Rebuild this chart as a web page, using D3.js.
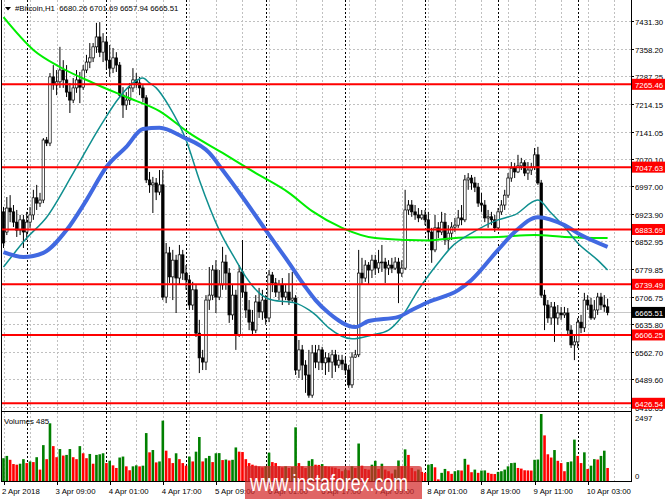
<!DOCTYPE html>
<html><head><meta charset="utf-8">
<script src="https://cdn.jsdelivr.net/npm/d3@7"></script>
<style>
html,body{margin:0;padding:0;background:#fff;}
svg{display:block;font-family:"Liberation Sans",Arial,sans-serif;}
</style></head><body>
<svg id="c" width="665" height="499"></svg>
<script>
// ---------------- data ----------------
const symbolTitle = "#Bitcoin,H1";
const priceTicks = ["7431.30","7358.20","7287.25","7214.15","7141.05","7070.10","6997.00","6923.90","6852.95","6779.85","6706.75","6635.80","6562.70","6489.60","6416.65"];
const levels = [7265.46, 7047.63, 6883.69, 6739.49, 6606.25, 6426.54];
const lastPrice = 6665.51;
const timeLabelIdx = [0, 16, 32, 48, 64, 80, 96, 112, 128, 144, 160, 176];
const timeLabels = ["2 Apr 2018","3 Apr 09:00","4 Apr 01:00","4 Apr 17:00","5 Apr 09:00","6 Apr 01:00","6 Apr 17:00","7 Apr 09:00","8 Apr 01:00","8 Apr 19:00","9 Apr 11:00","10 Apr 03:00"];
const daySeparators = [7, 31, 55, 79, 103, 127, 149, 173];
const volMaxLabel = 2497;

const open = [6930,6877,6940,6930,6903,6882,6909,6877,6903,6922,
6967,6953,6961,7119,7111,7285,7264,7272,7303,7277,
7245,7224,7256,7277,7258,7303,7324,7335,7364,7390,
7350,7377,7329,7308,7335,7316,7237,7211,7224,7256,
7277,7269,7256,7230,7014,7001,7006,6982,7001,6706,
6822,6759,6803,6756,6817,6769,6751,6685,6725,6611,
6546,6535,6698,6711,6777,6706,6738,6798,6769,6659,
6711,6606,6772,6719,6672,6640,6619,6693,6667,6698,
6651,6764,6743,6719,6738,6706,6719,6698,6703,6514,
6567,6527,6501,6448,6559,6535,6567,6533,6546,6535,
6554,6527,6540,6530,6514,6475,6548,6554,6769,6756,
6790,6777,6803,6782,6796,6798,6782,6790,6782,6798,
6769,6782,6935,6948,6930,6922,6914,6922,6909,6877,
6830,6888,6877,6903,6856,6874,6890,6895,6914,6909,
7014,7019,7006,6995,6953,6948,6914,6917,6909,6888,
6930,6948,6974,7019,7045,7035,7051,7059,7032,7040,
7048,7080,7006,6711,6685,6651,6680,6651,6664,6659,
6664,6619,6580,6588,6640,6625,6698,6685,6651,6672,
6706,6685,6680.26];
const high = [6943,6969,6974,6948,6935,6922,6922,6930,6943,6988,
7001,6980,7124,7127,7295,7316,7303,7364,7329,7316,
7269,7282,7303,7298,7316,7343,7374,7374,7427,7429,
7400,7387,7369,7361,7350,7324,7258,7245,7269,7308,
7295,7285,7264,7237,7035,7022,7019,7040,7040,6848,
6838,6830,6817,6843,6830,6790,6764,6746,6738,6646,
6567,6711,6785,6790,6803,6777,6838,6817,6782,6738,
6725,6790,6856,6738,6698,6672,6711,6730,6725,6711,
6777,6772,6756,6751,6756,6738,6769,6772,6711,6593,
6580,6540,6567,6580,6580,6580,6575,6561,6559,6567,
6567,6554,6554,6548,6527,6561,6567,6830,6809,6803,
6798,6817,6817,6830,6843,6809,6803,6809,6811,6809,
6803,6988,6961,6961,6948,6940,6935,6935,6930,6888,
6922,6903,6930,6927,6895,6903,6914,6935,6948,7027,
7032,7027,7022,7006,6980,6961,6935,6930,6922,6940,
6961,6988,7032,7061,7059,7080,7072,7066,7061,7059,
7098,7101,7014,6725,6698,6693,6693,6685,6680,6680,
6677,6632,6606,6651,6659,6717,6711,6704,6698,6717,
6717,6711,6701.69];
const low = [6835,6869,6903,6890,6864,6869,6835,6856,6888,6909,
6935,6943,6953,7103,7103,7251,7237,7256,7256,7232,
7190,7216,7243,7216,7251,7295,7308,7324,7348,7337,
7324,7303,7285,7295,7298,7230,7177,7198,7211,7245,
7256,7237,7219,7006,6980,6927,6961,6974,6698,6690,
6743,6698,6664,6738,6751,6725,6672,6672,6601,6506,
6514,6514,6672,6698,6664,6698,6725,6725,6638,6646,
6567,6601,6704,6651,6619,6606,6611,6651,6646,6633,
6640,6719,6706,6698,6685,6698,6685,6693,6501,6493,
6488,6454,6441,6441,6519,6514,6514,6501,6509,6493,
6509,6519,6514,6501,6467,6467,6546,6548,6738,6746,
6738,6756,6764,6769,6772,6743,6764,6769,6777,6690,
6759,6777,6922,6917,6909,6903,6909,6895,6856,6796,
6824,6861,6869,6843,6830,6856,6877,6888,6895,6903,
6988,6988,6982,6943,6930,6903,6888,6895,6877,6882,
6922,6935,6967,7009,7019,7032,7040,7024,7014,7027,
7040,7001,6704,6619,6638,6633,6588,6633,6646,6651,
6606,6572,6540,6572,6611,6614,6672,6646,6646,6659,
6672,6667,6657.94];
const close = [6848,6940,6930,6903,6882,6909,6877,6903,6922,6967,
6953,6961,7119,7111,7285,7264,7272,7303,7277,7245,
7224,7256,7277,7258,7303,7324,7335,7364,7390,7350,
7377,7329,7308,7335,7316,7237,7211,7224,7256,7277,
7269,7256,7230,7014,7001,7006,6982,7001,6706,6822,
6759,6803,6756,6817,6769,6751,6685,6725,6611,6546,
6535,6698,6711,6777,6706,6738,6798,6769,6659,6711,
6606,6772,6719,6672,6640,6619,6693,6667,6698,6651,
6764,6743,6719,6738,6706,6719,6698,6703,6514,6567,
6527,6501,6448,6559,6535,6567,6533,6546,6535,6554,
6527,6540,6530,6514,6475,6548,6554,6769,6756,6790,
6777,6803,6782,6796,6798,6782,6790,6782,6798,6769,
6782,6935,6948,6930,6922,6914,6922,6909,6877,6830,
6888,6877,6903,6856,6874,6890,6895,6914,6909,7014,
7019,7006,6995,6953,6948,6914,6917,6909,6888,6930,
6948,6974,7019,7045,7035,7051,7059,7032,7040,7048,
7080,7006,6711,6685,6651,6680,6651,6664,6659,6664,
6619,6580,6588,6640,6625,6698,6685,6651,6672,6706,
6685,6680,6665.51];
const volume = [850,935,790,632,608,644,814,668,729,705,
887,425,1337,814,2150,1300,887,1191,948,972,
1191,887,814,1300,1033,850,1008,644,972,996,
1033,668,753,583,486,875,911,547,401,547,
583,545,571,1786,1069,1154,693,729,2250,1130,
850,668,1033,814,668,571,911,729,1093,1640,
729,850,935,705,1033,1040,780,800,765,790,
1251,1093,1080,814,668,608,571,540,510,547,
1057,705,668,547,510,547,486,520,2000,668,
547,486,753,814,608,600,632,547,530,510,
495,450,365,425,400,547,486,1397,571,450,
425,608,753,450,644,425,365,280,425,765,
547,1179,972,486,365,425,340,304,608,632,
510,61,304,450,365,267,365,400,390,826,
608,328,425,304,389,395,304,267,260,340,
365,425,547,668,680,486,462,400,395,390,
790,800,2497,1700,996,875,1154,753,668,365,
705,729,1543,935,668,1069,450,571,814,800,
935,1130,485];
// moving averages read at selected bars: [bar index, price]
const maGreen = [[0,7442],[9,7356],[17,7311],[27,7269],[37,7232],[47,7195],[56,7137],[66,7085],[76,7032],[86,6980],[93,6932],[102,6888],[112,6861],[122,6856],[128,6855],[137,6862],[149,6864],[160,6869],[169,6864],[182,6861]];
const maBlue = [[0,6824],[6,6811],[12,6822],[19,6882],[25,6961],[31,7048],[37,7101],[42,7148],[47,7151],[54,7127],[62,7085],[66,7040],[72,6969],[79,6882],[86,6796],[91,6732],[94,6698],[98,6664],[106,6627],[110,6643],[119,6654],[123,6672],[128,6693],[137,6724],[141,6751],[149,6830],[154,6877],[161,6916],[169,6895],[174,6869],[182,6838]];
const maTeal = [[0,6785],[7,6861],[13,6916],[21,7032],[29,7153],[35,7232],[39,7269],[42,7282],[44,7269],[46,7256],[50,7206],[55,7119],[59,7014],[65,6882],[70,6803],[73,6759],[77,6717],[81,6698],[88,6690],[92,6672],[94,6659],[98,6625],[105,6596],[111,6606],[116,6619],[120,6654],[125,6725],[131,6796],[135,6838],[141,6874],[149,6909],[154,6922],[161,6961],[165,6927],[169,6890],[173,6848],[179,6803],[182,6777]];

// ---------------- layout ----------------
const svg = d3.select("#c");
const L = 1, R = 631, priceBot = 411, volTop = 412, volBot = 481;
const n = close.length;
const x = d3.scaleLinear().domain([0, n - 1]).range([3.5, 607.6]);
const y = d3.scaleLinear().domain([6408.9, 7487.2]).range([410, 0]);
const yv = d3.scaleLinear().domain([0, volMaxLabel]).range([volBot, 414]);
const FS = 7.8;

svg.append("rect").attr("width", 665).attr("height", 499).attr("fill", "#fff");

svg.append("clipPath").attr("id", "pc").append("rect").attr("x", L).attr("y", 0).attr("width", R - L).attr("height", priceBot);

const g = svg.append("g");
const vgrid = d3.range(0, 200, 8).filter(i => x(i) < R - 1);
["price", "vol"].forEach(p => {
  const y0 = p === "price" ? 0 : volTop, y1 = p === "price" ? priceBot : volBot;
  g.selectAll(null).data(vgrid).join("line")
    .attr("x1", d => Math.round(x(d)) + 0.5).attr("x2", d => Math.round(x(d)) + 0.5)
    .attr("y1", y0).attr("y2", y1)
    .attr("stroke", "#c0c0c0").attr("stroke-width", 1).attr("stroke-dasharray", "2,2");
  g.selectAll(null).data(daySeparators).join("line")
    .attr("x1", d => Math.round(x(d)) + 0.5).attr("x2", d => Math.round(x(d)) + 0.5)
    .attr("y1", y0).attr("y2", y1)
    .attr("stroke", "#000").attr("stroke-width", 1).attr("stroke-dasharray", "2,2");
});
g.selectAll(null).data(priceTicks).join("line")
  .attr("x1", L).attr("x2", R)
  .attr("y1", d => Math.round(y(+d)) + 0.5).attr("y2", d => Math.round(y(+d)) + 0.5)
  .attr("stroke", "#c0c0c0").attr("stroke-dasharray", "2,2");

svg.append("line").attr("x1", L).attr("x2", R)
  .attr("y1", Math.round(y(lastPrice)) + 0.5).attr("y2", Math.round(y(lastPrice)) + 0.5)
  .attr("stroke", "#c8c8c8").attr("stroke-width", 1);

const pc = svg.append("g").attr("clip-path", "url(#pc)");
const idx = d3.range(n);
pc.selectAll(".wick").data(idx).join("line")
  .attr("x1", i => x(i)).attr("x2", i => x(i))
  .attr("y1", i => y(high[i])).attr("y2", i => y(low[i]))
  .attr("stroke", "#000").attr("stroke-width", 1);
const bw = 2.5;
pc.selectAll(".body").data(idx).join("rect")
  .attr("x", i => x(i) - bw / 2)
  .attr("y", i => y(Math.max(open[i], close[i])))
  .attr("width", bw)
  .attr("height", i => Math.max(0.8, Math.abs(y(open[i]) - y(close[i]))))
  .attr("fill", i => close[i] >= open[i] ? "#fff" : "#000")
  .attr("stroke", "#000").attr("stroke-width", 0.7);

const line = d3.line().x(d => x(d[0])).y(d => y(d[1])).curve(d3.curveMonotoneX);
pc.append("path").datum(maGreen).attr("d", line).attr("fill", "none").attr("stroke", "#00ee00").attr("stroke-width", 2);
pc.append("path").datum(maTeal).attr("d", line).attr("fill", "none").attr("stroke", "#0f8f8f").attr("stroke-width", 1.5);
pc.append("path").datum(maBlue).attr("d", line).attr("fill", "none").attr("stroke", "#4169e1").attr("stroke-width", 4).attr("stroke-linejoin", "round");

pc.selectAll(".lvl").data(levels).join("line")
  .attr("x1", L).attr("x2", R)
  .attr("y1", d => y(d)).attr("y2", d => y(d))
  .attr("stroke", "#ff0000").attr("stroke-width", 2);

svg.selectAll(".vb").data(idx).join("rect")
  .attr("x", i => x(i) - 1.3).attr("width", 2.6)
  .attr("y", i => yv(volume[i])).attr("height", i => volBot - yv(volume[i]))
  .attr("fill", i => (i === 0 || volume[i] > volume[i - 1]) ? "#008000" : "#ff0000");

const ax = svg.append("g").attr("stroke", "#000").attr("stroke-width", 1).attr("fill", "none");
ax.append("line").attr("x1", 1.5).attr("x2", 1.5).attr("y1", 0).attr("y2", volBot);
ax.append("line").attr("x1", R + 0.5).attr("x2", R + 0.5).attr("y1", 0).attr("y2", volBot + 1);
ax.append("line").attr("x1", 1).attr("x2", R + 1).attr("y1", priceBot + 0.5).attr("y2", priceBot + 0.5);
ax.append("line").attr("x1", 1).attr("x2", R + 1).attr("y1", volBot + 0.5).attr("y2", volBot + 0.5);
svg.selectAll(".pt").data(priceTicks).join("line")
  .attr("x1", R).attr("x2", R + 3)
  .attr("y1", d => Math.round(y(+d)) + 0.5).attr("y2", d => Math.round(y(+d)) + 0.5)
  .attr("stroke", "#000");
svg.selectAll(".ptl").data(priceTicks).join("text")
  .attr("x", R + 4).attr("y", d => y(+d) + 4)
  .attr("font-size", FS).attr("fill", "#000").text(d => d);
svg.append("text").attr("x", R + 4).attr("y", 421).attr("font-size", FS).text(volMaxLabel);
svg.append("text").attr("x", R + 4).attr("y", 479).attr("font-size", FS).text("0");
svg.append("text").attr("x", 4).attr("y", 424).attr("font-size", FS).text("Volumes " + volume[n - 1]);

const lab = svg.selectAll(".ll").data(levels).join("g");
lab.append("rect").attr("x", R + 1).attr("y", d => y(d) - 5.5).attr("width", 34).attr("height", 11).attr("fill", "#ff0000");
lab.append("text").attr("x", R + 4).attr("y", d => y(d) + 3.5).attr("font-size", FS).attr("fill", "#fff").text(d => d.toFixed(2));
svg.append("rect").attr("x", R + 1).attr("y", y(lastPrice) - 5.5).attr("width", 34).attr("height", 11).attr("fill", "#000");
svg.append("text").attr("x", R + 4).attr("y", y(lastPrice) + 3.5).attr("font-size", FS).attr("fill", "#fff").text(lastPrice.toFixed(2));

svg.selectAll(".tt").data(timeLabelIdx).join("line")
  .attr("x1", d => Math.round(x(d)) + 0.5).attr("x2", d => Math.round(x(d)) + 0.5)
  .attr("y1", volBot).attr("y2", volBot + 4).attr("stroke", "#000");
svg.selectAll(".tl").data(timeLabelIdx).join("text")
  .attr("x", (d, k) => k === 0 ? 2 : x(d) - 1).attr("y", 494)
  .attr("font-size", FS).text((d, k) => timeLabels[k]);

svg.append("path").attr("d", "M5,7 L11,7 L8,10.5 Z").attr("fill", "#000");
svg.append("text").attr("x", 15).attr("y", 11).attr("font-size", FS).attr("xml:space", "preserve")
  .text(symbolTitle + "  " + [open[n-1], high[n-1], low[n-1], close[n-1]].map(v => v.toFixed(2)).join(" "));

svg.append("rect").attr("x", 245).attr("y", 466).attr("width", 177).attr("height", 40).attr("rx", 3)
  .attr("fill", "#d42a2a").attr("opacity", 0.72);
svg.append("text").attr("x", 250).attr("y", 491).attr("font-size", 24).attr("fill", "#fff")
  .attr("textLength", 158).attr("lengthAdjust", "spacingAndGlyphs").text("www.instaforex.com");
</script>
</body></html>
